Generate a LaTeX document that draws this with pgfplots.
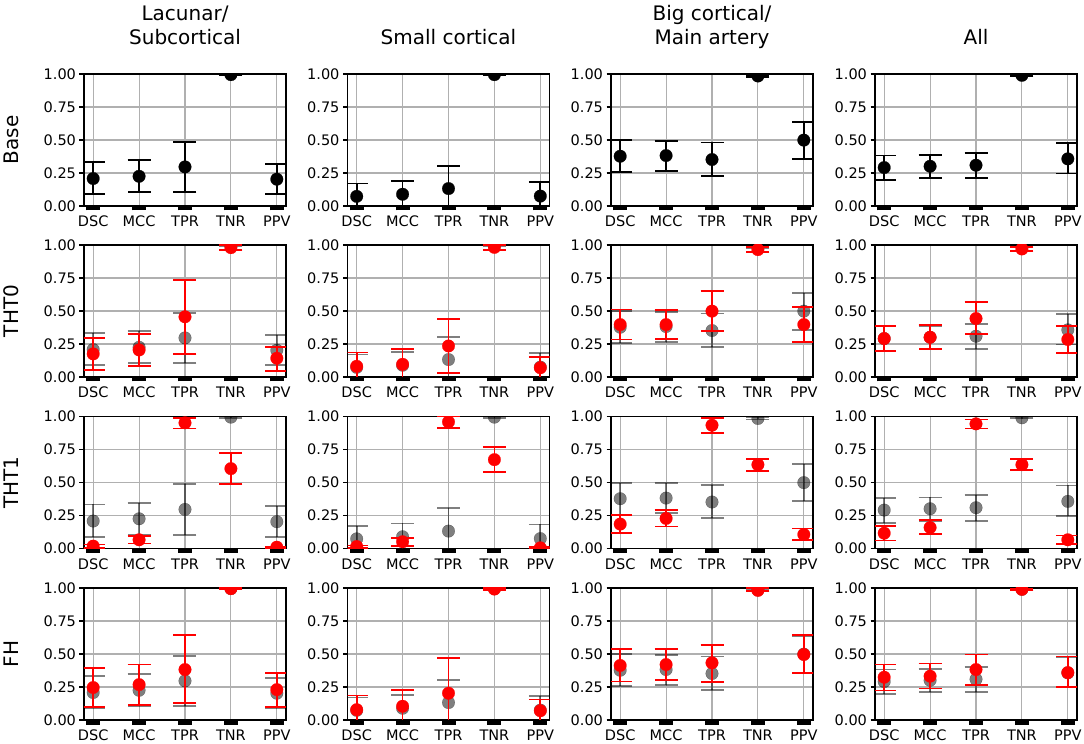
\documentclass[border=0pt]{standalone}
\usepackage{fontspec}
\setmainfont{DejaVu Sans}
\usepackage{pgfplots}
\usepackage{pgfplotstable}
\pgfplotsset{compat=1.18}
\definecolor{gridc}{RGB}{176,176,176}

% columns: x, mean, upper end and lower end of the error bar
% Base
\pgfplotstableread{
x y hi lo
0 0.208 0.334 0.089
1 0.225 0.347 0.104
2 0.296 0.486 0.104
3 0.995 1.000 0.990
4 0.203 0.319 0.089
}\baseL
\pgfplotstableread{
x y hi lo
0 0.073 0.170 -0.024
1 0.089 0.190 -0.012
2 0.132 0.305 -0.040
3 0.995 1.000 0.990
4 0.075 0.182 -0.030
}\baseS
\pgfplotstableread{
x y hi lo
0 0.377 0.499 0.256
1 0.382 0.494 0.268
2 0.352 0.481 0.230
3 0.985 0.995 0.978
4 0.499 0.638 0.357
}\baseB
\pgfplotstableread{
x y hi lo
0 0.291 0.382 0.195
1 0.301 0.387 0.210
2 0.309 0.403 0.210
3 0.990 0.995 0.985
4 0.357 0.478 0.246
}\baseA
% THT0
\pgfplotstableread{
x y hi lo
0 0.175 0.296 0.051
1 0.205 0.324 0.084
2 0.456 0.732 0.175
3 0.980 1.000 0.960
4 0.142 0.230 0.048
}\thtzL
\pgfplotstableread{
x y hi lo
0 0.081 0.185 -0.020
1 0.096 0.210 -0.020
2 0.235 0.438 0.033
3 0.982 1.000 0.962
4 0.070 0.152 -0.010
}\thtzS
\pgfplotstableread{
x y hi lo
0 0.397 0.511 0.284
1 0.397 0.506 0.289
2 0.499 0.651 0.349
3 0.965 0.987 0.947
4 0.397 0.529 0.263
}\thtzB
\pgfplotstableread{
x y hi lo
0 0.291 0.385 0.197
1 0.301 0.395 0.213
2 0.443 0.567 0.324
3 0.970 0.987 0.957
4 0.284 0.385 0.180
}\thtzA
% THT1
\pgfplotstableread{
x y hi lo
0 0.018 0.030 0.005
1 0.066 0.096 0.038
2 0.952 0.990 0.909
3 0.605 0.722 0.489
4 0.010 0.015 0.005
}\thtoL
\pgfplotstableread{
x y hi lo
0 0.015 0.022 0.005
1 0.051 0.078 0.020
2 0.959 1.000 0.914
3 0.673 0.767 0.580
4 0.005 0.010 0.001
}\thtoS
\pgfplotstableread{
x y hi lo
0 0.185 0.253 0.116
1 0.228 0.289 0.167
2 0.934 0.987 0.878
3 0.635 0.681 0.590
4 0.106 0.152 0.063
}\thtoB
\pgfplotstableread{
x y hi lo
0 0.116 0.170 0.061
1 0.159 0.213 0.109
2 0.944 0.977 0.909
3 0.635 0.676 0.592
4 0.066 0.099 0.033
}\thtoA
% FH
\pgfplotstableread{
x y hi lo
0 0.246 0.395 0.096
1 0.268 0.420 0.116
2 0.382 0.641 0.129
3 0.995 1.000 0.990
4 0.230 0.359 0.096
}\fhL
\pgfplotstableread{
x y hi lo
0 0.078 0.185 -0.030
1 0.104 0.230 -0.020
2 0.203 0.471 -0.060
3 0.992 1.000 0.982
4 0.070 0.155 -0.015
}\fhS
\pgfplotstableread{
x y hi lo
0 0.413 0.537 0.291
1 0.420 0.537 0.304
2 0.433 0.570 0.286
3 0.982 0.997 0.977
4 0.496 0.641 0.357
}\fhB
\pgfplotstableread{
x y hi lo
0 0.324 0.420 0.223
1 0.332 0.428 0.238
2 0.382 0.496 0.268
3 0.990 0.995 0.985
4 0.359 0.481 0.248
}\fhA

\pgfplotsset{
  panel/.style={
    scale only axis, width=202pt, height=132pt, anchor=south west,
    xmin=-0.2, xmax=4.2, ymin=0, ymax=1,
    xtick={0,1,2,3,4}, xticklabels={DSC,MCC,TPR,TNR,PPV},
    ytick={0,0.25,0.5,0.75,1}, yticklabels={0.00,0.25,0.50,0.75,1.00},
    grid=major, grid style={gridc, line width=1.1pt},
    axis line style={line width=1.1pt},
    tick align=outside, tick pos=left, major tick length=4.5pt,
    xtick style={line width=14pt, black},
    ytick style={line width=1.1pt, black},
    tick label style={font=\fontsize{14.5}{17}\selectfont},
    xticklabel style={yshift=-2pt},
    clip marker paths=true,
    every axis title/.style={at={(axis description cs:0.5,1)}, anchor=base,
      yshift=29pt, font=\fontsize{20}{24}\selectfont},
    every axis y label/.style={at={(axis description cs:-0.322,0.5)},
      rotate=90, anchor=base, font=\fontsize{20}{24}\selectfont},
  },
  % colour, opacity
  pt/.style n args={2}{only marks, color=#1, mark=*, mark size=6.3pt,
    opacity=#2,
    mark options={solid, draw=#1, fill=#1, line width=0.2pt, opacity=#2},
    error bars/y dir=both, error bars/y explicit,
    error bars/error bar style={line width=1.8pt, #1, opacity=#2},
    error bars/error mark options={rotate=90, mark size=11.5pt,
      line width=1.8pt, #1, opacity=#2}},
  blk/.style={pt={black}{1}},
  gry/.style={pt={black}{0.5}},
  rd/.style={pt={red}{1}},
}
\newcommand{\pts}[2]{\addplot[#1] table[x=x, y=y,
  y error plus expr=\thisrow{hi}-\thisrow{y},
  y error minus expr=\thisrow{y}-\thisrow{lo}] {#2};}

\begin{document}
\begin{tikzpicture}
\useasboundingbox (0,0) rectangle (1084pt,744pt);
% row 1: Base
\begin{axis}[panel, at={(84pt,538pt)}, ylabel={Base},
  title={\begin{tabular}[b]{c}Lacunar/\\Subcortical\end{tabular}}]
\pts{blk}{\baseL}
\end{axis}
\begin{axis}[panel, at={(347.5pt,538pt)}, title={Small cortical}]
\pts{blk}{\baseS}
\end{axis}
\begin{axis}[panel, at={(611pt,538pt)},
  title={\begin{tabular}[b]{c}Big cortical/\\Main artery\end{tabular}}]
\pts{blk}{\baseB}
\end{axis}
\begin{axis}[panel, at={(875pt,538pt)}, title={All}]
\pts{blk}{\baseA}
\end{axis}
% row 2: THT0
\begin{axis}[panel, at={(84pt,367pt)}, ylabel={THT0}]
\pts{gry}{\baseL}
\pts{rd}{\thtzL}
\end{axis}
\begin{axis}[panel, at={(347.5pt,367pt)}]
\pts{gry}{\baseS}
\pts{rd}{\thtzS}
\end{axis}
\begin{axis}[panel, at={(611pt,367pt)}]
\pts{gry}{\baseB}
\pts{rd}{\thtzB}
\end{axis}
\begin{axis}[panel, at={(875pt,367pt)}]
\pts{gry}{\baseA}
\pts{rd}{\thtzA}
\end{axis}
% row 3: THT1
\begin{axis}[panel, at={(84pt,195.5pt)}, ylabel={THT1}]
\pts{gry}{\baseL}
\pts{rd}{\thtoL}
\end{axis}
\begin{axis}[panel, at={(347.5pt,195.5pt)}]
\pts{gry}{\baseS}
\pts{rd}{\thtoS}
\end{axis}
\begin{axis}[panel, at={(611pt,195.5pt)}]
\pts{gry}{\baseB}
\pts{rd}{\thtoB}
\end{axis}
\begin{axis}[panel, at={(875pt,195.5pt)}]
\pts{gry}{\baseA}
\pts{rd}{\thtoA}
\end{axis}
% row 4: FH
\begin{axis}[panel, at={(84pt,24pt)}, ylabel={FH}]
\pts{gry}{\baseL}
\pts{rd}{\fhL}
\end{axis}
\begin{axis}[panel, at={(347.5pt,24pt)}]
\pts{gry}{\baseS}
\pts{rd}{\fhS}
\end{axis}
\begin{axis}[panel, at={(611pt,24pt)}]
\pts{gry}{\baseB}
\pts{rd}{\fhB}
\end{axis}
\begin{axis}[panel, at={(875pt,24pt)}]
\pts{gry}{\baseA}
\pts{rd}{\fhA}
\end{axis}
\end{tikzpicture}
\end{document}
